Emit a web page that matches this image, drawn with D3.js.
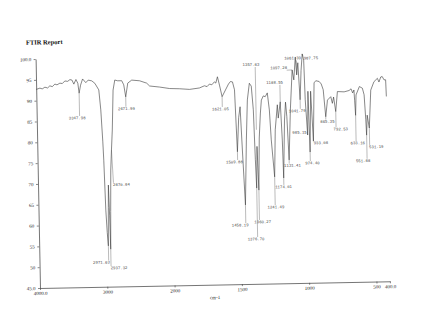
<!DOCTYPE html>
<html>
<head>
<meta charset="utf-8">
<script src="https://cdn.jsdelivr.net/npm/d3@7"></script>
<style>
  body { margin: 0; background: #fff; }
</style>
</head>
<body>
<div id="chart"></div>
<script>
// spectrum: wavenumber (cm-1) and transmittance (%T)
const wavenumber = [4000, 3944, 3910, 3870, 3830, 3796, 3760, 3720, 3690, 3646, 3610, 3572, 3530, 3496, 3467, 3439, 3407, 3380, 3363, 3340,
  3308, 3261, 3225, 3172, 3127, 3070, 3046, 3025, 3016, 3000, 2985, 2972, 2962, 2955, 2945, 2938, 2928, 2915, 2899, 2881,
  2858, 2830, 2787, 2727, 2698, 2672, 2638, 2578, 2461, 2357, 2314, 2166, 2018, 1935, 1861, 1787, 1750, 1730, 1712, 1695,
  1675, 1665, 1652, 1638, 1620, 1594, 1571, 1556, 1541, 1527, 1514, 1500, 1488, 1477, 1462, 1446, 1433, 1416, 1402, 1390,
  1382, 1376, 1368, 1360, 1350, 1338, 1329, 1314, 1300, 1284, 1271, 1261, 1241, 1230, 1211, 1206, 1189, 1179, 1174, 1160,
  1150, 1142, 1131, 1115, 1096, 1085, 1071, 1063, 1053, 1041, 1030, 1019, 1009, 1003, 990, 982, 974, 962, 948, 935,
  922, 897, 882, 868, 853, 838, 813, 802, 792, 778, 763, 713, 676, 661, 650, 640, 636, 631, 625, 599,
  577, 565, 556, 552, 545, 531, 515, 490, 464, 453, 439, 428, 415, 403, 400];
const transmittance = [92.7, 93.0, 92.8, 93.2, 93.0, 93.5, 93.3, 93.9, 93.7, 94.1, 94.0, 94.6, 94.5, 94.9, 94.8, 93.8, 94.9, 94.0, 91.6, 93.5,
  95.0, 94.1, 94.7, 94.5, 93.9, 92.3, 87.5, 79.8, 75.4, 63.4, 58.0, 54.8, 64.0, 69.4, 62.0, 54.0, 63.0, 73.0, 77.8, 82.6,
  92.2, 94.6, 94.4, 94.4, 93.4, 90.5, 93.8, 94.5, 94.3, 93.7, 93.0, 92.7, 92.3, 92.2, 92.0, 92.3, 92.8, 92.6, 93.2, 93.0,
  93.7, 93.4, 94.9, 92.9, 90.1, 91.7, 93.1, 93.7, 93.6, 91.7, 76.8, 85.0, 87.6, 77.2, 64.0, 79.6, 89.2, 93.2, 92.5, 86.8,
  74.8, 68.0, 78.0, 67.5, 80.0, 86.0, 89.1, 90.1, 89.9, 90.8, 86.7, 79.5, 70.6, 81.9, 87.9, 84.7, 88.6, 79.4, 70.3, 84.2,
  88.5, 85.0, 74.6, 86.6, 96.2, 93.8, 99.3, 95.0, 97.9, 89.0, 96.0, 100.0, 98.5, 89.0, 80.5, 91.0, 76.4, 91.0, 79.0, 93.0,
  93.5, 93.3, 92.7, 91.3, 84.8, 88.8, 89.6, 88.0, 89.5, 86.0, 90.8, 90.7, 91.0, 91.4, 90.4, 91.1, 88.5, 85.0, 89.9, 91.9,
  91.5, 89.9, 83.9, 80.2, 85.0, 81.9, 91.0, 93.0, 93.8, 92.9, 94.1, 94.2, 93.4, 93.4, 89.4];

// axis ticks
const xTicks = [4000, 3000, 2000, 1500, 1000, 500, 400];
const xTickLabels = ["4000.0", "3000", "2000", "1500", "1000", "500", "400.0"];
const yTicks = [45, 50, 55, 60, 65, 70, 75, 80, 85, 90, 95, 100];
const yTickLabels = ["45.0", "50", "55", "60", "65", "70", "75", "80", "85", "90", "95", "100.0"];

// peak annotations: text, peak position, where the text sits
const peakText = ["3347.98", "2671.99", "2870.84", "2971.63", "2937.32", "1621.05", "1509.88", "1458.19", "1376.70", "1360.27",
  "1241.49", "1174.01", "1131.41", "1357.83", "1188.55", "1097.28", "1061.39", "987.75", "1041.79", "985.15",
  "974.40", "933.08", "865.35", "792.53", "633.16", "551.88", "531.19"];
const peakWn = [3363, 2672, 2899, 2972, 2938, 1620, 1514, 1462, 1376, 1360,
  1241, 1174, 1131, 1370, 1189, 1096, 1063, 1019, 1041, 990,
  974, 948, 853, 778, 631, 552, 531];
const peakT = [91.6, 90.5, 77.8, 54.8, 54.0, 90.1, 76.8, 64.0, 68.0, 67.5,
  70.6, 70.3, 74.6, 82.0, 88.6, 96.2, 95.0, 100.0, 89.0, 80.5,
  76.4, 79.0, 84.8, 86.0, 85.0, 80.2, 81.9];
const labelWn = [3400, 2665, 2760, 3079, 2819, 1634, 1538, 1504, 1388, 1336,
  1236, 1176, 1107, 1401, 1228, 1196, 1091, 955, 1064, 1050,
  958, 893, 841, 743, 619, 582, 482];
const labelT = [85.6, 87.6, 69.4, 50.8, 49.4, 87.1, 74.3, 59.1, 55.7, 59.8,
  63.3, 68.1, 73.2, 97.6, 93.2, 96.7, 99.0, 98.9, 86.3, 81.1,
  73.7, 78.5, 83.6, 81.7, 78.3, 74.0, 77.3];

const spectrum = wavenumber.map((w, i) => ({ w: w, t: transmittance[i] }));
const peaks = peakText.map((s, i) => ({ s: s, pw: peakWn[i], pt: peakT[i], lw: labelWn[i], lt: labelT[i] }));

// layout
const W = 448, H = 329;
const margin = { left: 40, bottom: 288, top: 59 };
const unit = 67.3; // pixels per 1000 cm-1 above 2000, per 500 cm-1 below

const svg = d3.select("#chart").append("svg")
  .attr("width", W)
  .attr("height", H);

// the scan sits slightly tilted on the page
const g = svg.append("g")
  .attr("transform", `rotate(-1.1, ${margin.left}, ${margin.bottom})`);

// x scale: expanded by two below 2000 cm-1
const x = d3.scaleLinear()
  .domain([4000, 2000, 400])
  .range([margin.left, margin.left + 2 * unit, margin.left + 5.2 * unit]);

const y = d3.scaleLinear()
  .domain([45, 100])
  .range([margin.bottom, margin.top]);

const ink = "#3a3a3a";

// x axis
const xAxis = g.append("g")
  .attr("transform", `translate(0,${margin.bottom})`)
  .call(d3.axisBottom(x)
    .tickValues(xTicks)
    .tickFormat((d, i) => xTickLabels[i])
    .tickSizeInner(2)
    .tickSizeOuter(0)
    .tickPadding(1.5));

// y axis
const yAxis = g.append("g")
  .attr("transform", `translate(${margin.left},0)`)
  .call(d3.axisLeft(y)
    .tickValues(yTicks)
    .tickFormat((d, i) => yTickLabels[i])
    .tickSizeInner(2)
    .tickSizeOuter(0)
    .tickPadding(2.5));

[xAxis, yAxis].forEach(a => {
  a.select(".domain").attr("stroke", ink).attr("stroke-width", 0.7);
  a.selectAll(".tick line").attr("stroke", ink).attr("stroke-width", 0.6);
  a.selectAll(".tick text")
    .attr("fill", "#222")
    .style("font-family", "'Liberation Serif', 'DejaVu Serif', serif")
    .style("font-size", "5px");
});

// spectrum
const line = d3.line()
  .x(d => x(d.w))
  .y(d => y(d.t));

g.append("path")
  .datum(spectrum)
  .attr("fill", "none")
  .attr("stroke", ink)
  .attr("stroke-width", 0.6)
  .attr("stroke-linejoin", "round")
  .attr("d", line);

// peak leaders and labels
const lab = g.append("g");

lab.selectAll("line")
  .data(peaks)
  .enter()
  .append("line")
  .attr("x1", d => {
    const lx = x(d.lw), px = x(d.pw);
    return lx + Math.max(-8, Math.min(8, px - lx));
  })
  .attr("y1", d => y(d.lt) + (y(d.pt) < y(d.lt) ? -2.2 : 2.2))
  .attr("x2", d => x(d.pw))
  .attr("y2", d => y(d.pt))
  .attr("stroke", "#555")
  .attr("stroke-width", 0.4);

lab.selectAll("text")
  .data(peaks)
  .enter()
  .append("text")
  .attr("x", d => x(d.lw))
  .attr("y", d => y(d.lt))
  .attr("text-anchor", "middle")
  .attr("dominant-baseline", "middle")
  .attr("fill", "#444")
  .style("font-family", "'Liberation Mono', 'DejaVu Sans Mono', monospace")
  .style("font-size", "4px")
  .text(d => d.s);

// title and unit
g.append("text")
  .attr("x", 30.6)
  .attr("y", 43)
  .attr("dominant-baseline", "middle")
  .attr("fill", "#111")
  .style("font-family", "'Liberation Serif', 'DejaVu Serif', serif")
  .style("font-weight", "bold")
  .style("font-size", "6.5px")
  .text("FTIR Report");

g.append("text")
  .attr("x", 214.8)
  .attr("y", 301.3)
  .attr("text-anchor", "middle")
  .attr("dominant-baseline", "middle")
  .attr("fill", "#222")
  .style("font-family", "'Liberation Serif', 'DejaVu Serif', serif")
  .style("font-size", "5px")
  .text("cm-1");
</script>
</body>
</html>
